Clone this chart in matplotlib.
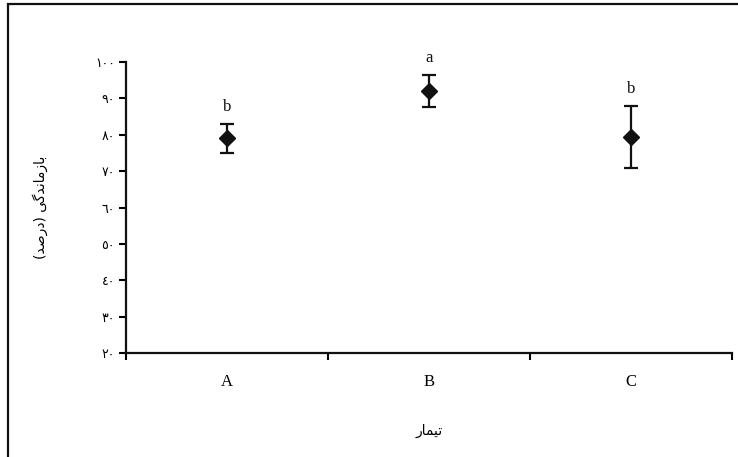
"""Survival percentage per treatment with error bars (Persian labels)."""

import matplotlib
matplotlib.use("Agg")
import matplotlib.pyplot as plt
from matplotlib.patches import Rectangle

treatments = ["A", "B", "C"]
survival = [79.0, 92.0, 79.3]
error = [4.0, 4.4, 8.5]
letters = ["b", "a", "b"]
y_ticks = [20, 30, 40, 50, 60, 70, 80, 90, 100]

y_label = "بازماندگی (درصد)"
x_label = "تیمار"

# presentation forms: isolated, final, initial, medial (None = no such form)
FORMS = {
    "ا": ("\uFE8D", "\uFE8E", None, None),
    "ب": ("\uFE8F", "\uFE90", "\uFE91", "\uFE92"),
    "ت": ("\uFE95", "\uFE96", "\uFE97", "\uFE98"),
    "د": ("\uFEA9", "\uFEAA", None, None),
    "ر": ("\uFEAD", "\uFEAE", None, None),
    "ز": ("\uFEAF", "\uFEB0", None, None),
    "ص": ("\uFEB9", "\uFEBA", "\uFEBB", "\uFEBC"),
    "م": ("\uFEE1", "\uFEE2", "\uFEE3", "\uFEE4"),
    "ن": ("\uFEE5", "\uFEE6", "\uFEE7", "\uFEE8"),
    "گ": ("\uFB92", "\uFB93", "\uFB94", "\uFB95"),
    "ی": ("\uFBFC", "\uFBFD", "\uFBFE", "\uFBFF"),
}
MIRROR = {"(": ")", ")": "("}


def shape_rtl(text):
    """Join Arabic letters by hand and reverse them for left-to-right drawing."""
    out = []
    for i, ch in enumerate(text):
        if ch not in FORMS:
            out.append(MIRROR.get(ch, ch))
            continue
        prev = text[i - 1] if i > 0 else ""
        nxt = text[i + 1] if i + 1 < len(text) else ""
        join_prev = prev in FORMS and FORMS[prev][2] is not None
        join_next = nxt in FORMS and FORMS[ch][2] is not None
        iso, fin, ini, med = FORMS[ch]
        if join_prev and join_next:
            out.append(med)
        elif join_prev:
            out.append(fin)
        elif join_next:
            out.append(ini)
        else:
            out.append(iso)
    return "".join(reversed(out))


def arabic_digits(n):
    return "".join(chr(0x0660 + int(d)) for d in str(n))


fig = plt.figure(figsize=(7.38, 4.57), dpi=100)
ax = fig.add_axes([0.1707, 0.2276, 0.8212, 0.6367])

x = list(range(1, len(treatments) + 1))
ax.errorbar(x, survival, yerr=error, fmt="D", color="#111111", markersize=8.5,
            elinewidth=1.6, capsize=5, capthick=1.6, zorder=3)

for xi, yi, ei, lab in zip(x, survival, error, letters):
    ax.annotate(lab, (xi, yi + ei), xytext=(0, 6.5), textcoords="offset points",
                ha="center", va="bottom", fontsize=12, family="Liberation Serif",
                color="#111111")

ax.set_xlim(0.5, len(treatments) + 0.5)
ax.set_ylim(20, 100)

ax.set_xticks([i + 0.5 for i in range(len(treatments) + 1)])
ax.set_xticklabels([])
ax.set_xticks(x, minor=True)
ax.set_xticklabels(treatments, minor=True, fontsize=12, family="Liberation Serif")
ax.tick_params(axis="x", which="major", direction="out", length=5, width=1.5)
ax.tick_params(axis="x", which="minor", length=0, pad=15)

ax.set_yticks(y_ticks)
ax.set_yticklabels([arabic_digits(v) for v in y_ticks], fontsize=9, family="DejaVu Sans")
ax.tick_params(axis="y", direction="out", length=5, width=1.5, pad=3)

for side in ["top", "right"]:
    ax.spines[side].set_visible(False)
for side in ["left", "bottom"]:
    ax.spines[side].set_linewidth(1.6)
    ax.spines[side].set_color("#111111")

ax.set_ylabel(shape_rtl(y_label), fontsize=10, family="DejaVu Sans", labelpad=0)
ax.yaxis.set_label_coords(-0.128, 0.5)
ax.set_xlabel(shape_rtl(x_label), fontsize=10, family="DejaVu Sans")
ax.xaxis.set_label_coords(0.5, -0.245)

# frame round the figure, cut off on the right and bottom
fig.patches.append(Rectangle((0.0108, -0.2), 1.5, 0.9912 + 0.2, transform=fig.transFigure,
                             fill=False, linewidth=1.6, edgecolor="#111111"))

fig.savefig("out.png", dpi=100)
